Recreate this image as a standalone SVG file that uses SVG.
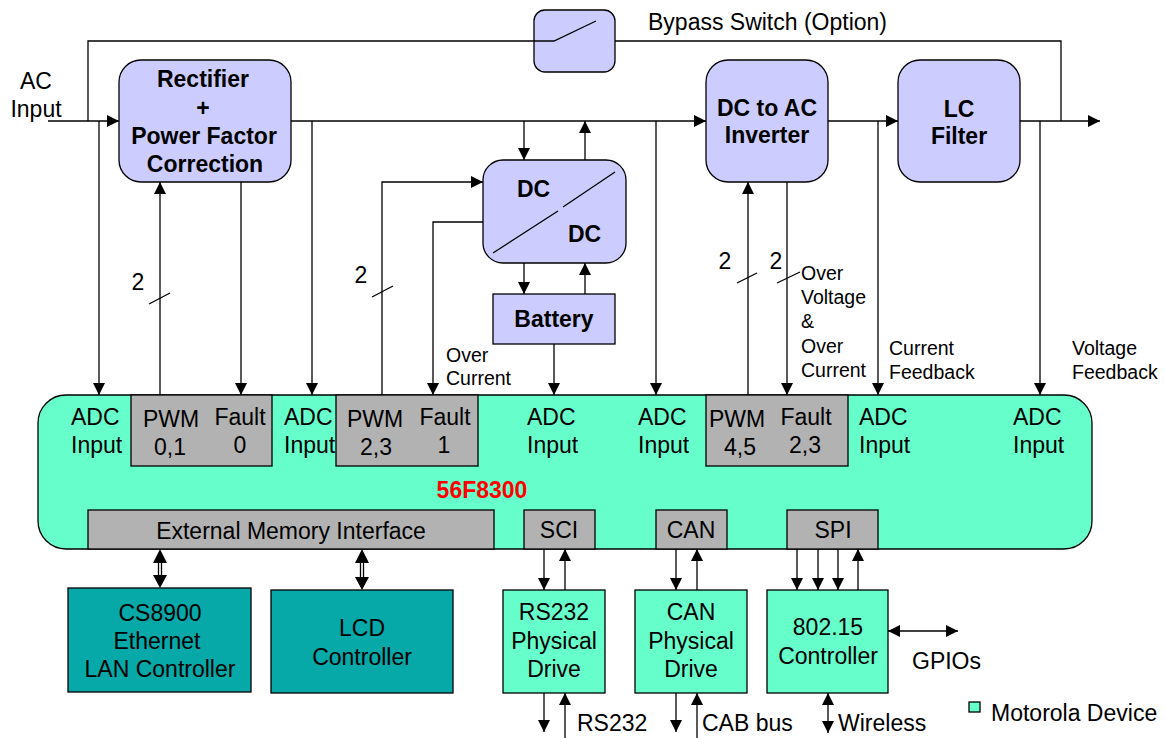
<svg xmlns="http://www.w3.org/2000/svg" width="1164" height="738" viewBox="0 0 1164 738">
<defs>
<style>
text{font-family:"Liberation Sans",Arial,sans-serif;font-size:23px;fill:#000}
.b{font-weight:bold}
.s{font-size:19.5px}
.m{text-anchor:middle}
.ln{fill:none;stroke:#000;stroke-width:1.3}
.blk{fill:#CCCCFF;stroke:#000;stroke-width:1.3}
.gry{fill:#B2B2B2;stroke:#000;stroke-width:1.3}
.mot{fill:#66FFCC;stroke:#000;stroke-width:1.3}
.ext{fill:#06A8A8;stroke:#000;stroke-width:1.3}
.red{fill:#FF0000}
.a{marker-end:url(#ah)}
.aa{marker-end:url(#ah);marker-start:url(#ahs)}
</style>
<marker id="ah" viewBox="0 0 12 12" refX="12" refY="6" markerWidth="12" markerHeight="12" orient="auto" markerUnits="userSpaceOnUse"><path d="M0,0 L12,6 L0,12 z" fill="#000"/></marker>
<marker id="ahs" viewBox="0 0 12 12" refX="12" refY="6" markerWidth="12" markerHeight="12" orient="auto-start-reverse" markerUnits="userSpaceOnUse"><path d="M0,0 L12,6 L0,12 z" fill="#000"/></marker>
</defs>
<rect width="1164" height="738" fill="#fff"/>

<g id="connectors">
<path class="ln" d="M88,121 V41 H554 L596,21"/>
<path class="ln" d="M615,41 H1061 V121"/>
<path class="ln a" d="M48,121 H119"/>
<path class="ln a" d="M291,121 H706"/>
<path class="ln a" d="M828,121 H898"/>
<path class="ln a" d="M1020,121 H1100"/>
<path class="ln a" d="M524,121 V160"/>
<path class="ln a" d="M585,160 V121"/>
<path class="ln a" d="M524,263 V294"/>
<path class="ln a" d="M585,294 V263"/>
<path class="ln a" d="M554,344 V395"/>
<path class="ln a" d="M99,121 V395"/>
<path class="ln a" d="M312,121 V395"/>
<path class="ln a" d="M656,121 V395"/>
<path class="ln a" d="M878,121 V395"/>
<path class="ln a" d="M1040,121 V395"/>
<path class="ln a" d="M160,395 V182"/>
<path class="ln a" d="M241,182 V395"/>
<path class="ln a" d="M382,395 V182 H483"/>
<path class="ln a" d="M483,222 H433 V395"/>
<path class="ln a" d="M748,395 V182"/>
<path class="ln a" d="M787,182 V395"/>
<path class="ln" d="M149,304 L170,293"/>
<path class="ln" d="M372,297 L393,286"/>
<path class="ln" d="M737,283 L757,273"/>
<path class="ln" d="M777,283 L800,272"/>
<g id="emi-arrows">
<path class="ln" d="M158.5,562 V576 M161.5,562 V576"/>
<path d="M153,563 L160,549 L167,563 z M153,575 L160,588 L167,575 z" fill="#000"/>
<path class="ln" d="M360.5,562 V578 M363.5,562 V578"/>
<path d="M355,563 L362,549 L369,563 z M355,577 L362,590 L369,577 z" fill="#000"/>
</g>
<path class="ln a" d="M544,549 V590"/>
<path class="ln a" d="M565,590 V549"/>
<path class="ln a" d="M544,693 V732"/>
<path class="ln a" d="M565,738 V693"/>
<path class="ln a" d="M676,549 V590"/>
<path class="ln a" d="M697,590 V549"/>
<path class="ln a" d="M676,693 V732"/>
<path class="ln a" d="M697,738 V693"/>
<path class="ln a" d="M797,549 V590"/>
<path class="ln a" d="M818,549 V590"/>
<path class="ln a" d="M838,549 V590"/>
<path class="ln a" d="M858,590 V549"/>
<path class="ln aa" d="M828,693 V733"/>
<path class="ln aa" d="M888,631 H958"/>
</g>

<g id="labels">
<text class="m" x="36" y="89">AC</text>
<text class="m" x="36" y="117">Input</text>
<text x="648" y="30">Bypass Switch (Option)</text>
<text class="m" x="138" y="290">2</text>
<text class="m" x="361" y="283">2</text>
<text class="m" x="725" y="269">2</text>
<text class="m" x="776" y="269">2</text>
<text class="s" x="446" y="362">Over</text>
<text class="s" x="446" y="385">Current</text>
<text class="s" x="801" y="280">Over</text>
<text class="s" x="801" y="304">Voltage</text>
<text class="s" x="801" y="328">&amp;</text>
<text class="s" x="801" y="353">Over</text>
<text class="s" x="801" y="377">Current</text>
<text class="s" x="889" y="355">Current</text>
<text class="s" x="889" y="379">Feedback</text>
<text class="s" x="1072" y="355">Voltage</text>
<text class="s" x="1072" y="379">Feedback</text>
<text x="577" y="731">RS232</text>
<text x="702" y="731">CAB bus</text>
<text x="838" y="731">Wireless</text>
<text x="912" y="669">GPIOs</text>
</g>

<g id="rectifier">
<rect class="blk" x="119" y="60" width="172" height="122" rx="22"/>
<text class="b m" x="203" y="87">Rectifier</text>
<text class="b m" x="203" y="116">+</text>
<text class="b m" x="204" y="144">Power Factor</text>
<text class="b m" x="205" y="172">Correction</text>
</g>

<g id="bypass-switch">
<rect class="blk" x="534" y="10" width="81" height="62" rx="11"/>
<path class="ln" d="M534,41 H554 L596,21"/>
</g>

<g id="dcdc">
<rect class="blk" x="483" y="160" width="143" height="103" rx="20"/>
<text class="b" x="517" y="197">DC</text>
<text class="b" x="568" y="242">DC</text>
<path class="ln" d="M493,253 L558,211 M563,207 L615,172"/>
</g>

<g id="battery">
<rect class="blk" x="493" y="294" width="122" height="50"/>
<text class="b m" x="554" y="327">Battery</text>
</g>

<g id="inverter">
<rect class="blk" x="706" y="60" width="122" height="122" rx="22"/>
<text class="b m" x="767" y="116">DC to AC</text>
<text class="b m" x="767" y="143">Inverter</text>
</g>

<g id="lc-filter">
<rect class="blk" x="898" y="60" width="122" height="122" rx="22"/>
<text class="b m" x="959" y="117">LC</text>
<text class="b m" x="959" y="144">Filter</text>
</g>

<g id="mcu">
<rect class="mot" x="38" y="395" width="1054" height="154" rx="28"/>
<rect class="gry" x="131" y="395" width="141" height="71"/>
<rect class="gry" x="336" y="395" width="142" height="71"/>
<rect class="gry" x="706" y="395" width="142" height="71"/>
<rect class="gry" x="88" y="510" width="406" height="39"/>
<rect class="gry" x="524" y="510" width="71" height="39"/>
<rect class="gry" x="656" y="510" width="71" height="39"/>
<rect class="gry" x="787" y="510" width="91" height="39"/>
<text x="71" y="425">ADC</text><text x="71" y="453">Input</text>
<text x="284" y="425">ADC</text><text x="284" y="453">Input</text>
<text x="527" y="425">ADC</text><text x="527" y="453">Input</text>
<text x="638" y="425">ADC</text><text x="638" y="453">Input</text>
<text x="859" y="425">ADC</text><text x="859" y="453">Input</text>
<text x="1013" y="425">ADC</text><text x="1013" y="453">Input</text>
<text class="m" x="171" y="427">PWM</text><text class="m" x="170" y="455">0,1</text>
<text class="m" x="240" y="425">Fault</text><text class="m" x="240" y="453">0</text>
<text class="m" x="375" y="427">PWM</text><text class="m" x="376" y="455">2,3</text>
<text class="m" x="445" y="425">Fault</text><text class="m" x="444" y="453">1</text>
<text class="m" x="737" y="427">PWM</text><text class="m" x="740" y="455">4,5</text>
<text class="m" x="806" y="425">Fault</text><text class="m" x="805" y="453">2,3</text>
<text class="b m red" x="482" y="498">56F8300</text>
<text class="m" x="291" y="539">External Memory Interface</text>
<text class="m" x="559" y="538">SCI</text>
<text class="m" x="691" y="538">CAN</text>
<text class="m" x="833" y="538">SPI</text>
</g>

<g id="cs8900">
<rect class="ext" x="68" y="588" width="183" height="104"/>
<text class="m" x="160" y="621">CS8900</text>
<text class="m" x="157" y="649">Ethernet</text>
<text class="m" x="160" y="677">LAN Controller</text>
</g>

<g id="lcd">
<rect class="ext" x="271" y="590" width="182" height="103"/>
<text class="m" x="362" y="636">LCD</text>
<text class="m" x="362" y="665">Controller</text>
</g>

<g id="rs232">
<rect class="mot" x="503" y="590" width="102" height="103"/>
<text class="m" x="554" y="620">RS232</text>
<text class="m" x="554" y="649">Physical</text>
<text class="m" x="554" y="677">Drive</text>
</g>

<g id="can-drive">
<rect class="mot" x="635" y="590" width="112" height="103"/>
<text class="m" x="691" y="620">CAN</text>
<text class="m" x="691" y="649">Physical</text>
<text class="m" x="691" y="677">Drive</text>
</g>

<g id="zigbee">
<rect class="mot" x="767" y="590" width="121" height="103"/>
<text class="m" x="828" y="635">802.15</text>
<text class="m" x="828" y="664">Controller</text>
</g>

<g id="legend">
<rect class="mot" x="969" y="702" width="11" height="10"/>
<text x="991" y="721">Motorola Device</text>
</g>
</svg>
